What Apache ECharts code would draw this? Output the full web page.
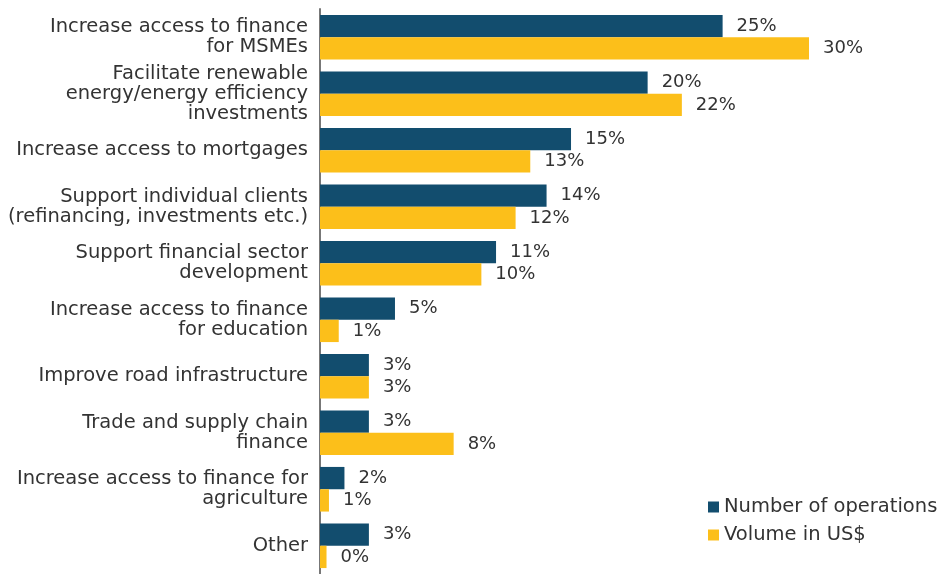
<!DOCTYPE html>
<html>
<head>
<meta charset="utf-8">
<script src="https://cdn.jsdelivr.net/npm/echarts@6/dist/echarts.min.js"></script>
<style>
  html, body { margin: 0; padding: 0; background: #fff; }
  #main { width: 948px; height: 574px; }
</style>
</head>
<body>
<div id="main"></div>
<script>
// categories, top to bottom
var categories = [
    'Increase access to finance\nfor MSMEs',
    'Facilitate renewable\nenergy/energy efficiency\ninvestments',
    'Increase access to mortgages',
    'Support individual clients\n(refinancing, investments etc.)',
    'Support financial sector\ndevelopment',
    'Increase access to finance\nfor education',
    'Improve road infrastructure',
    'Trade and supply chain\nfinance',
    'Increase access to finance for\nagriculture',
    'Other'
];
// share in %
var numberOfOperations = [24.7, 20.1, 15.4, 13.9, 10.8, 4.6, 3.0, 3.0, 1.5, 3.0];
var volumeUsd = [30.0, 22.2, 12.9, 12.0, 9.9, 1.15, 3.0, 8.2, 0.55, 0.4];

var FONT = 'DejaVu Sans';
var TEXT = '#333333';

var myChart = echarts.init(document.getElementById('main'));
myChart.setOption({
    animation: false,
    grid: {
        left: 320,
        right: 139,
        top: 9,
        height: 569
    },
    legend: {
        orient: 'vertical',
        left: 708,
        top: 497,
        padding: 0,
        itemWidth: 11,
        itemHeight: 11,
        itemGap: 8,
        icon: 'rect',
        textStyle: { fontFamily: FONT, fontSize: 19.5, color: TEXT },
        data: ['Number of operations', 'Volume in US$']
    },
    xAxis: {
        type: 'value',
        min: 0,
        max: 30,
        show: false
    },
    yAxis: {
        type: 'category',
        inverse: true,
        data: categories,
        axisLine: { lineStyle: { color: '#777777', width: 2 } },
        axisTick: { show: false },
        axisLabel: {
            margin: 12,
            fontFamily: FONT,
            fontSize: 19.5,
            lineHeight: 20,
            color: TEXT,
            padding: [4, 0, 0, 0]
        }
    },
    series: [
        {
            name: 'Number of operations',
            type: 'bar',
            data: numberOfOperations,
            barGap: '0%',
            barCategoryGap: '21%',
            itemStyle: { color: '#124d6e' },
            label: {
                show: true,
                position: 'right',
                distance: 14,
                fontFamily: FONT,
                fontSize: 18,
                color: TEXT,
                formatter: function (p) { return Math.round(p.value) + '%'; }
            }
        },
        {
            name: 'Volume in US$',
            type: 'bar',
            data: volumeUsd,
            itemStyle: { color: '#fcbf1a' },
            label: {
                show: true,
                position: 'right',
                distance: 14,
                fontFamily: FONT,
                fontSize: 18,
                color: TEXT,
                formatter: function (p) { return Math.round(p.value) + '%'; }
            }
        }
    ]
});
</script>
</body>
</html>
